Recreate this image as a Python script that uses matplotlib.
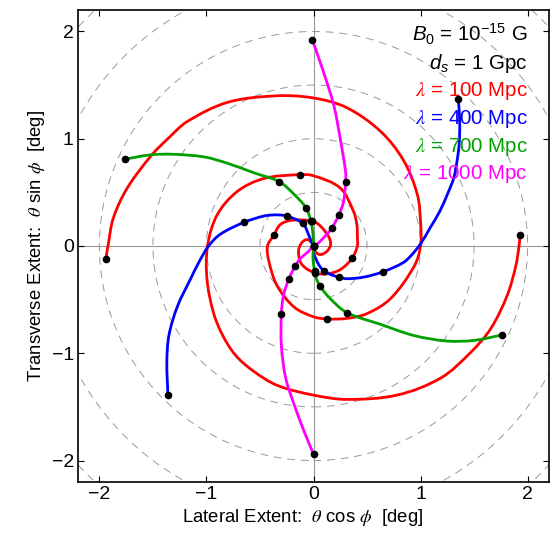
import numpy as np
import matplotlib
matplotlib.use("Agg")
import matplotlib.pyplot as plt
from matplotlib.patches import Circle, PathPatch
from matplotlib.path import Path

plt.rcParams['font.family'] = ['Liberation Sans', 'DejaVu Sans']
plt.rcParams['mathtext.fontset'] = 'custom'
plt.rcParams['mathtext.rm'] = 'Liberation Sans'
plt.rcParams['mathtext.it'] = 'Liberation Sans:italic'
plt.rcParams['mathtext.bf'] = 'Liberation Sans:bold'

# curves, end -> centre -> other end
red_x = [-1.94, -1.92, -1.87, -1.74, -1.51, -1.35, -1.18, -0.80, -0.34, 0.0, 0.31, 0.625, 0.84, 0.97, 1.0, 1.0,
         0.94, 0.72, 0.50, 0.31, 0.125, 0.0, -0.18, -0.34, -0.415, -0.43, -0.37, -0.31, -0.20, -0.01, 0.06, 0.14,
         0.16, 0.125, 0.06, 0.016, 0.0,
         -0.016, -0.06, -0.11, -0.14, -0.11, 0.01, 0.125, 0.25, 0.36, 0.41, 0.41, 0.405, 0.375, 0.25, 0.0, -0.13,
         -0.46, -0.71, -0.90, -0.99, -0.995, -0.935, -0.85, -0.727, -0.556, -0.337, 0.0, 0.31, 0.78, 1.19, 1.47,
         1.656, 1.81, 1.89, 1.92, 1.93]
red_y = [-0.12, 0.0, 0.26, 0.54, 0.85, 1.01, 1.16, 1.34, 1.40, 1.38, 1.29, 1.07, 0.80, 0.48, 0.22, 0.0,
         -0.19, -0.49, -0.63, -0.675, -0.68, -0.66, -0.57, -0.37, -0.15, 0.0, 0.10, 0.20, 0.24, 0.232, 0.19, 0.09,
         0.015, -0.05, -0.08, -0.05, 0.0,
         0.03, 0.06, 0.03, -0.05, -0.17, -0.25, -0.26, -0.22, -0.115, 0.0, 0.08, 0.20, 0.32, 0.54, 0.655, 0.665,
         0.63, 0.51, 0.29, 0.0, -0.31, -0.62, -0.83, -1.02, -1.17, -1.30, -1.39, -1.43, -1.39, -1.23, -0.99,
         -0.77, -0.46, -0.185, 0.0, 0.10]
red_dots_x = [-1.94, 0.125, -0.37, -0.01, 0.0, 0.01, 0.36, -0.13, 1.93]
red_dots_y = [-0.12, -0.68, 0.10, 0.232, 0.0, -0.25, -0.115, 0.665, 0.10]

blue_x = [-1.36, -1.37, -1.35, -1.27, -1.15, -1.07, -0.98, -0.87, -0.65, -0.46, -0.34, -0.245, -0.10, -0.047,
          -0.016, 0.0, 0.0, 0.047, 0.094, 0.17, 0.24, 0.31, 0.47, 0.65, 0.84, 0.92, 1.0, 1.09, 1.18, 1.25, 1.31,
          1.34, 1.36, 1.366, 1.353]
blue_y = [-1.39, -1.08, -0.83, -0.56, -0.31, -0.15, 0.0, 0.11, 0.22, 0.28, 0.29, 0.278, 0.21, 0.108,
          0.03, 0.0, -0.06, -0.17, -0.23, -0.27, -0.29, -0.305, -0.29, -0.24, -0.154, -0.08, 0.02, 0.17, 0.324,
          0.48, 0.633, 0.787, 0.94, 1.157, 1.37]
blue_dots_x = [-1.36, -0.65, -0.245, -0.10, 0.0, 0.094, 0.24, 0.65, 1.353]
blue_dots_y = [-1.39, 0.22, 0.278, 0.21, 0.0, -0.23, -0.29, -0.24, 1.37]

green_x = [-1.76, -1.52, -1.31, -1.02, -0.80, -0.55, -0.32, -0.18, -0.07, -0.025, -0.006, 0.0,
           -0.005, 0.01, 0.025, 0.0625, 0.156, 0.31, 0.625, 0.94, 1.25, 1.5, 1.76]
green_y = [0.81, 0.85, 0.855, 0.83, 0.77, 0.68, 0.60, 0.48, 0.355, 0.235, 0.12, 0.0,
           -0.11, -0.235, -0.3, -0.377, -0.49, -0.62, -0.73, -0.835, -0.886, -0.88, -0.83]
green_dots_x = [-1.76, -0.32, -0.07, -0.025, 0.0, 0.01, 0.0625, 0.31, 1.76]
green_dots_y = [0.81, 0.60, 0.355, 0.235, 0.0, -0.235, -0.377, -0.62, -0.83]

magenta_x = [-0.01, 0.094, 0.19, 0.25, 0.30, 0.30, 0.28, 0.234, 0.17, 0.094, 0.03, 0.0,
             -0.047, -0.125, -0.17, -0.23, -0.28, -0.30, -0.30, -0.26, -0.18, -0.087, 0.0]
magenta_y = [1.92, 1.62, 1.31, 1.0, 0.69, 0.60, 0.41, 0.285, 0.165, 0.077, 0.015, 0.0,
             -0.05, -0.12, -0.185, -0.305, -0.46, -0.63, -0.93, -1.23, -1.48, -1.73, -1.94]
magenta_dots_x = [-0.01, 0.30, 0.234, 0.17, 0.0, -0.17, -0.23, -0.30, 0.0]
magenta_dots_y = [1.92, 0.60, 0.285, 0.165, 0.0, -0.185, -0.305, -0.63, -1.94]

circle_radii = [0.5, 1.0, 1.5, 2.0, 2.5, 3.0]
ticks = [-2, -1, 0, 1, 2]


def smooth_path(xs, ys):
    # bezier path through the read points (drawing only, no new data)
    p = np.column_stack([xs, ys]).astype(float)
    n = len(p)
    tang = np.zeros_like(p)
    for i in range(n):
        a = p[max(i - 1, 0)]
        b = p[min(i + 1, n - 1)]
        d = b - a
        l = np.hypot(*d)
        tang[i] = d / l if l > 0 else 0
    verts = [p[0]]
    codes = [Path.MOVETO]
    for i in range(n - 1):
        seg = np.hypot(*(p[i + 1] - p[i]))
        verts += [p[i] + tang[i] * seg / 3, p[i + 1] - tang[i + 1] * seg / 3, p[i + 1]]
        codes += [Path.CURVE4] * 3
    return Path(verts, codes)


fig = plt.figure(figsize=(5.53, 5.34), dpi=100)
ax = fig.add_axes([78 / 553, 52 / 534, 471 / 553, 472 / 534])

for r in circle_radii:
    ax.add_patch(Circle((0, 0), r, fill=False, edgecolor='0.6', lw=0.7,
                        linestyle=(0, (8, 6)), zorder=1))
ax.axhline(0, color='0.6', lw=0.8, zorder=1)
ax.axvline(0, color='0.6', lw=0.8, zorder=1)

curves = [
    (red_x, red_y, red_dots_x, red_dots_y, '#ff0000'),
    (blue_x, blue_y, blue_dots_x, blue_dots_y, '#0000ff'),
    (green_x, green_y, green_dots_x, green_dots_y, '#00a000'),
    (magenta_x, magenta_y, magenta_dots_x, magenta_dots_y, '#ff00ff'),
]
for cx, cy, dx, dy, col in curves:
    ax.add_patch(PathPatch(smooth_path(cx, cy), fill=False, edgecolor=col, lw=2.0,
                           capstyle='round', joinstyle='round', zorder=3))
for cx, cy, dx, dy, col in curves:
    ax.plot(dx, dy, 'o', color='black', ms=4.5, zorder=5)

ax.set_xlim(-2.2, 2.2)
ax.set_ylim(-2.2, 2.2)
ax.set_xticks(ticks)
ax.set_yticks(ticks)
ax.tick_params(direction='in', top=True, right=True, length=4, width=0.8, labelsize=14, pad=3)
for s in ax.spines.values():
    s.set_linewidth(1.2)

ax.set_xlabel('Lateral Extent:  $\\theta$ cos $\\phi$  [deg]', fontsize=13.3, math_fontfamily='stix', labelpad=0)
ax.set_ylabel('Transverse Extent:  $\\theta$ sin $\\phi$  [deg]', fontsize=13.3, math_fontfamily='stix', labelpad=3)
ax.xaxis.set_label_coords(0.477, -0.052)

lx = 0.955
ax.text(lx, 0.933, '$B_0$ = 10$^{-15}$ G', transform=ax.transAxes, ha='right', va='baseline', fontsize=14.8)
ax.text(lx, 0.875, '$d_s$ = 1 Gpc', transform=ax.transAxes, ha='right', va='baseline', fontsize=14.8)
labels = ['100', '400', '700', '1000']
ys = [0.817, 0.758, 0.700, 0.642]
cols = ['#ff0000', '#0000ff', '#00a000', '#ff00ff']
for lab, yy, col in zip(labels, ys, cols):
    ax.text(lx, yy, '$\\lambda$ = ' + lab + ' Mpc', transform=ax.transAxes, ha='right', va='baseline',
            fontsize=14.8, color=col, math_fontfamily='stix')

fig.savefig('out.png', dpi=100)
